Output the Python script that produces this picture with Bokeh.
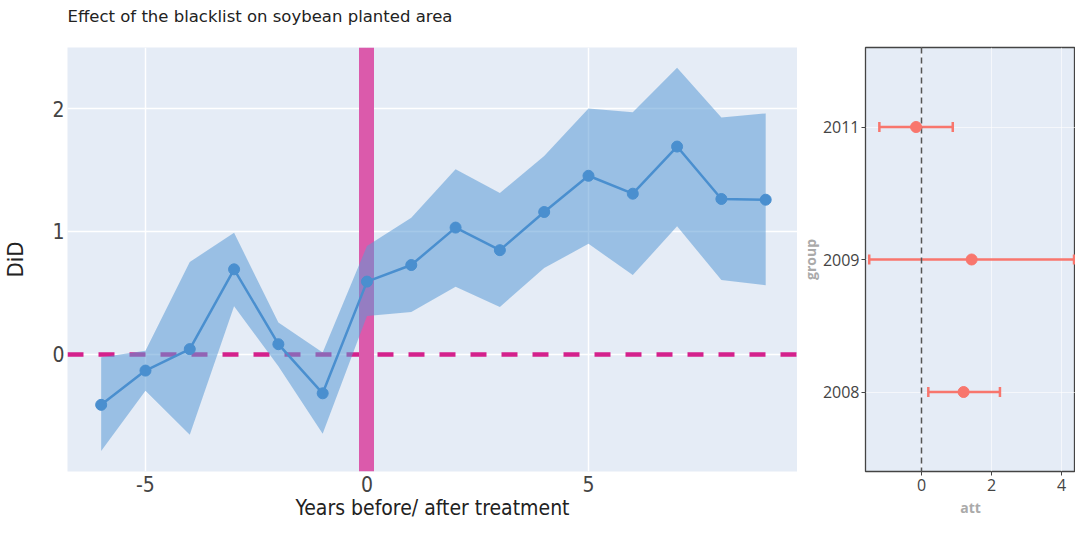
from bokeh.plotting import figure
from bokeh.models import Range1d, FixedTicker, FactorRange, Whisker, ColumnDataSource, TeeHead
from bokeh.layouts import row
from bokeh.embed import file_html
from bokeh.resources import INLINE

# ---- event-study data (left panel) ----
years = [-6, -5, -4, -3, -2, -1, 0, 1, 2, 3, 4, 5, 6, 7, 8, 9]
did = [-0.414, -0.135, 0.04, 0.69, 0.08, -0.32, 0.59, 0.725, 1.03, 0.846,
       1.157, 1.452, 1.306, 1.69, 1.263, 1.257]
did_upper = [-0.027, 0.027, 0.75, 0.987, 0.257, 0.013, 0.88, 1.11, 1.506, 1.311,
             1.614, 2.0, 1.97, 2.333, 1.927, 1.96]
did_lower = [-0.79, -0.30, -0.657, 0.39, -0.10, -0.65, 0.31, 0.343, 0.549, 0.384,
             0.70, 0.898, 0.643, 1.04, 0.603, 0.56]
treatment_year = [0]
reference_level = [0]
x_ticks = [-5, 0, 5]
x_tick_labels = ["-5", "0", "5"]
y_ticks = [0, 1, 2]
y_tick_labels = ["0", "1", "2"]

# ---- group ATT data (right panel) ----
groups = ["2008", "2009", "2011"]
att = [1.2, 1.43, -0.16]
att_lower = [0.19, -1.5, -1.21]
att_upper = [2.24, 4.36, 0.89]
att_ticks = [0, 2, 4]
att_tick_labels = ["0", "2", "4"]

NARROW = "DejaVu Sans Condensed, Liberation Sans"
BG = "#e5ecf6"

p = figure(frame_width=730, height=522,
           x_range=Range1d(-6.76, 9.718), y_range=Range1d(-0.957, 2.497),
           output_backend="svg", toolbar_location=None,
           min_border_left=60, min_border_right=0, min_border_top=39, min_border_bottom=0,
           background_fill_color=BG, border_fill_color="white", outline_line_color=None,
           title="Effect of the blacklist on soybean planted area")
p.title.text_font = "DejaVu Sans"
p.title.text_font_size = "16.5px"
p.title.text_font_style = "normal"
p.title.text_color = "#222222"
p.title.align = "left"
p.title.standoff = 0
p.title.padding = dict(top=4, right=0, bottom=22, left=0)

p.xgrid.ticker = FixedTicker(ticks=x_ticks)
p.ygrid.ticker = FixedTicker(ticks=y_ticks)
p.grid.grid_line_color = "white"
p.grid.grid_line_width = 1.5

p.xaxis.ticker = FixedTicker(ticks=x_ticks)
p.xaxis.major_label_overrides = dict(zip(x_ticks, x_tick_labels))
p.yaxis.ticker = FixedTicker(ticks=y_ticks)
p.yaxis.major_label_overrides = dict(zip(y_ticks, y_tick_labels))
for ax in (p.xaxis, p.yaxis):
    ax.axis_line_color = None
    ax.major_tick_line_color = None
    ax.major_tick_out = 0
    ax.major_tick_in = 0
    ax.minor_tick_line_color = None
    ax.minor_tick_out = 0
    ax.minor_tick_in = 0
    ax.major_label_text_font = NARROW
    ax.major_label_text_font_size = "21px"
    ax.major_label_text_color = "#444444"
    ax.axis_label_text_font = NARROW
    ax.axis_label_text_font_style = "normal"
    ax.axis_label_text_color = "#222222"
p.xaxis.axis_label = "Years before/ after treatment"
p.xaxis.axis_label_text_font_size = "21px"
p.yaxis.axis_label = "DiD"
p.yaxis.axis_label_text_font_size = "22px"
p.xaxis.major_label_standoff = 4
p.xaxis.axis_label_standoff = 1
p.yaxis.major_label_standoff = 3
p.yaxis.axis_label_standoff = 21

p.hspan(y=reference_level, line_color="#d4218c", line_width=4.5, line_dash="16 15")
p.vspan(x=treatment_year, line_color="#db5aab", line_width=15)
p.varea(x=years, y1=did_lower, y2=did_upper, fill_color="#5b9bd5", fill_alpha=0.55)
p.line(years, did, line_color="#4a8fcf", line_width=2.5)
p.scatter(years, did, size=11, fill_color="#4a8fcf", line_color="#4a8fcf")

# ---- right panel ----
src = ColumnDataSource(dict(group=groups, att=att, lo=att_lower, hi=att_upper))
q = figure(frame_width=210, height=522,
           x_range=Range1d(-1.607, 4.402),
           y_range=FactorRange(factors=groups, range_padding=0.1, range_padding_units="absolute"),
           output_backend="svg", toolbar_location=None,
           min_border_left=64, min_border_right=0, min_border_top=39, min_border_bottom=0,
           background_fill_color=BG, border_fill_color="white",
           outline_line_color="#444444", outline_line_width=1.3)
q.xgrid.ticker = FixedTicker(ticks=att_ticks)
q.grid.grid_line_color = "white"
q.grid.grid_line_alpha = 0.6
q.grid.grid_line_width = 1
q.xaxis.ticker = FixedTicker(ticks=att_ticks)
q.xaxis.major_label_overrides = dict(zip(att_ticks, att_tick_labels))
for ax in (q.xaxis, q.yaxis):
    ax.axis_line_color = None
    ax.major_tick_line_color = "#444444"
    ax.major_tick_out = 4
    ax.major_tick_in = 0
    ax.minor_tick_line_color = None
    ax.minor_tick_out = 0
    ax.minor_tick_in = 0
    ax.major_label_text_font = "Open Sans"
    ax.major_label_text_font_size = "16px"
    ax.major_label_text_color = "#444444"
    ax.axis_label_text_font = "Open Sans"
    ax.axis_label_text_font_size = "14px"
    ax.axis_label_text_font_style = "bold"
    ax.axis_label_text_color = "#aaaaaa"
q.xaxis.axis_label = "att"
q.yaxis.axis_label = "group"
q.yaxis.major_label_standoff = 2
q.yaxis.axis_label_standoff = 0
q.xaxis.major_label_standoff = 3
q.xaxis.axis_label_standoff = 4

q.vspan(x=reference_level, line_color="#555555", line_width=1.5, line_dash="6 4")
q.add_layout(Whisker(source=src, base="group", lower="lo", upper="hi", dimension="width",
                     line_color="#f8766d", line_width=2.5,
                     lower_head=TeeHead(size=10, line_color="#f8766d", line_width=2.5),
                     upper_head=TeeHead(size=10, line_color="#f8766d", line_width=2.5)))
q.scatter(x="att", y="group", source=src, size=11, fill_color="#f8766d", line_color="#f8766d")

layout = row(p, q)
open("out.html", "w").write(file_html(layout, INLINE))
